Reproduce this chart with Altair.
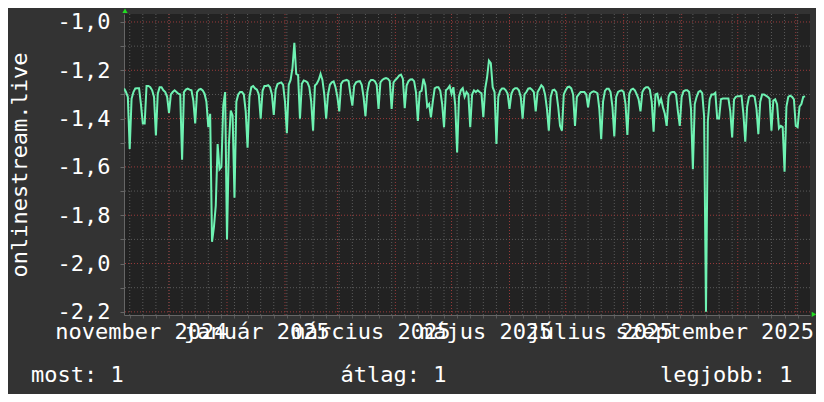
import altair as alt
import pandas as pd

# days are counted relative to 2024-12-01 (day 0); first sample is 2024-11-07
first_day = -24
values = [
    -1.275, -1.29, -1.31, -1.526,
    -1.318, -1.29, -1.275, -1.274, -1.274, -1.34, -1.42,
    -1.42, -1.265, -1.265, -1.27, -1.283, -1.31, -1.47,
    -1.297, -1.27, -1.27, -1.283, -1.29, -1.31, -1.376,
    -1.30, -1.29, -1.283, -1.29, -1.297, -1.30, -1.57,
    -1.29, -1.28, -1.276, -1.28, -1.283, -1.325, -1.42,
    -1.29, -1.28, -1.277, -1.283, -1.297, -1.33, -1.435,
    -1.38, -1.91, -1.85, -1.76, -1.505, -1.61, -1.60,
    -1.346, -1.29, -1.90, -1.51, -1.367, -1.387, -1.728,
    -1.33, -1.30, -1.29, -1.29, -1.30, -1.37, -1.52,
    -1.31, -1.27, -1.265, -1.275, -1.28, -1.30, -1.40,
    -1.285, -1.265, -1.265, -1.262, -1.27, -1.30, -1.385,
    -1.28, -1.257, -1.253, -1.25, -1.26, -1.33, -1.46,
    -1.26, -1.24, -1.19, -1.086, -1.215, -1.22, -1.40,
    -1.256, -1.242, -1.245, -1.25, -1.27, -1.33, -1.45,
    -1.263, -1.255, -1.24, -1.215, -1.24, -1.30, -1.40,
    -1.30, -1.26, -1.25, -1.246, -1.27, -1.31, -1.37,
    -1.256, -1.245, -1.242, -1.24, -1.245, -1.30, -1.346,
    -1.263, -1.25, -1.246, -1.245, -1.26, -1.31, -1.39,
    -1.29, -1.25, -1.24, -1.24, -1.245, -1.26, -1.36,
    -1.25, -1.24, -1.235, -1.232, -1.235, -1.245, -1.36,
    -1.25, -1.24, -1.232, -1.222, -1.218, -1.235, -1.357,
    -1.263, -1.245, -1.238, -1.237, -1.245, -1.29, -1.41,
    -1.29, -1.285, -1.235, -1.262, -1.35, -1.34, -1.395,
    -1.33, -1.275, -1.27, -1.27, -1.285, -1.34, -1.436,
    -1.283, -1.276, -1.265, -1.297, -1.27, -1.345, -1.54,
    -1.31, -1.283, -1.274, -1.31, -1.29, -1.30, -1.436,
    -1.30, -1.283, -1.29, -1.283, -1.29, -1.295, -1.394,
    -1.276, -1.23, -1.16, -1.17, -1.27, -1.29, -1.505,
    -1.31, -1.285, -1.275, -1.275, -1.283, -1.297, -1.36,
    -1.297, -1.28, -1.274, -1.274, -1.283, -1.31, -1.40,
    -1.30, -1.29, -1.276, -1.274, -1.28, -1.29, -1.37,
    -1.29, -1.276, -1.262, -1.27, -1.30, -1.36, -1.45,
    -1.31, -1.283, -1.28, -1.29, -1.35, -1.43, -1.45,
    -1.30, -1.283, -1.27, -1.268, -1.275, -1.30, -1.43,
    -1.31, -1.30, -1.29, -1.29, -1.29, -1.30, -1.353,
    -1.297, -1.29, -1.287, -1.29, -1.295, -1.36, -1.485,
    -1.33, -1.285, -1.276, -1.276, -1.29, -1.35, -1.474,
    -1.31, -1.29, -1.285, -1.283, -1.29, -1.34, -1.468,
    -1.297, -1.28, -1.276, -1.283, -1.30, -1.32, -1.37,
    -1.29, -1.276, -1.27, -1.27, -1.28, -1.33, -1.454,
    -1.30, -1.297, -1.34, -1.318, -1.353, -1.38, -1.43,
    -1.31, -1.293, -1.29, -1.29, -1.30, -1.37, -1.43,
    -1.31, -1.287, -1.283, -1.283, -1.29, -1.36, -1.61,
    -1.34, -1.31, -1.29, -1.285, -1.295, -1.39, -2.20,
    -1.41, -1.32, -1.30, -1.30, -1.293, -1.40, -1.40,
    -1.32, -1.317, -1.317, -1.317, -1.317, -1.37, -1.478,
    -1.32, -1.31, -1.307, -1.307, -1.305, -1.38, -1.496,
    -1.35, -1.31, -1.305, -1.305, -1.31, -1.36, -1.464,
    -1.33, -1.30, -1.30, -1.305, -1.31, -1.318, -1.45,
    -1.325, -1.32, -1.34, -1.44, -1.43, -1.435, -1.62,
    -1.35, -1.31, -1.305, -1.31, -1.32, -1.43, -1.435,
    -1.35, -1.34, -1.31, -1.308,
]
days = list(range(first_day, first_day + len(values)))

y_major = [-1.0, -1.2, -1.4, -1.6, -1.8, -2.0, -2.2]
y_minor = [-1.1, -1.3, -1.5, -1.7, -1.9, -2.1]
y_ticks = sorted(y_major + y_minor, reverse=True)
month_starts = [0, 31, 62, 90, 121, 151, 182, 212, 243, 274, 304, 335]
week_lines = list(range(-21, 343, 7))
x_label_pos = [-14.8, 47, 108, 169.5, 230.5, 291.7]
x_label_text = ["november 2024", "január 2025", "március 2025",
                "május 2025", "július 2025", "szeptember 2025"]
legend_text = ["most: 1", "átlag: 1", "legjobb: 1"]
y_title = "onlinestream.live"

W, H = 686, 301
FONT = "DejaVu Sans Mono"
xs = alt.Scale(domain=[-24.05, 342.6], nice=False, zero=False)
ys = alt.Scale(domain=[-2.213, -0.967], nice=False, zero=False)

GRID_MINOR = "#5a5a5a"
GRID_MAJOR = "#9a3a3a"

label_expr = ("round(abs(datum.value)*10) % 2 == 0 ? "
              "'-' + replace(format(abs(datum.value), '.1f'), '.', ',') : ''")

x_axis = alt.Axis(
    labels=False, ticks=True, values=week_lines, tickSize=3,
    tickColor="#5a5a5a", domainColor="#666666", grid=False, title=None)
y_axis = alt.Axis(
    values=y_ticks, labelExpr=label_expr, labelFont=FONT, labelFontSize=22,
    labelColor="#ffffff", tickSize=4, tickColor="#666666", labelPadding=10,
    domainColor="#666666", grid=False, title=y_title, titleFont=FONT,
    titleFontSize=22, titleColor="#ffffff", titleFontWeight="normal",
    titleAngle=270, titleX=-98, titleY=150.5, titleAlign="center",
    titleBaseline="alphabetic")

minor_h = alt.Chart(pd.DataFrame({"v": y_minor})).mark_rule(
    color=GRID_MINOR, strokeDash=[1, 2], strokeWidth=1
).encode(y=alt.Y("v:Q", scale=ys, axis=y_axis))

minor_v = alt.Chart(pd.DataFrame({"d": week_lines})).mark_rule(
    color=GRID_MINOR, strokeDash=[1, 2], strokeWidth=1
).encode(x=alt.X("d:Q", scale=xs, axis=x_axis))

major_h = alt.Chart(pd.DataFrame({"v": y_major})).mark_rule(
    color=GRID_MAJOR, strokeDash=[1, 2], strokeWidth=1
).encode(y=alt.Y("v:Q", scale=ys, axis=y_axis))

major_v = alt.Chart(pd.DataFrame({"d": month_starts})).mark_rule(
    color=GRID_MAJOR, strokeDash=[1, 2], strokeWidth=1
).encode(x=alt.X("d:Q", scale=xs, axis=x_axis))

line = alt.Chart(pd.DataFrame({"d": days, "v": values})).mark_line(
    color="#6ef2b2", strokeWidth=2, clip=True
).encode(
    x=alt.X("d:Q", scale=xs, axis=x_axis),
    y=alt.Y("v:Q", scale=ys, axis=y_axis),
)

xlab = alt.Chart(pd.DataFrame({"d": x_label_pos, "t": x_label_text})).mark_text(
    font=FONT, fontSize=22, color="#ffffff", baseline="alphabetic", align="center"
).encode(x=alt.X("d:Q", scale=xs, axis=x_axis), y=alt.value(325.3), text="t:N")

legend_x = [-93, 216.5, 536]
legend_layers = []
for txt, lx in zip(legend_text, legend_x):
    legend_layers.append(
        alt.Chart(pd.DataFrame({"t": [txt]})).mark_text(
            font=FONT, fontSize=22, color="#ffffff", baseline="alphabetic", align="left"
        ).encode(x=alt.value(lx), y=alt.value(368), text="t:N")
    )

arrow_up = alt.Chart(pd.DataFrame({"a": [0]})).mark_point(
    shape="triangle-up", filled=True, color="#22dd22", size=28, opacity=1
).encode(x=alt.value(1), y=alt.value(-3.3))
arrow_right = alt.Chart(pd.DataFrame({"a": [0]})).mark_point(
    shape="triangle-right", filled=True, color="#22dd22", size=28, opacity=1
).encode(x=alt.value(690), y=alt.value(300.3))

chart = alt.layer(
    minor_h, minor_v, major_h, major_v, line, xlab, *legend_layers, arrow_up, arrow_right
).properties(
    width=W, height=H,
    padding={"left": 116, "top": 6, "right": 6, "bottom": 79},
    autosize=alt.AutoSizeParams(type="none"),
    background="#333333",
).configure_view(fill="#222222", strokeWidth=0)

chart.save("out.html", embed_options={"renderer": "svg", "actions": False})
